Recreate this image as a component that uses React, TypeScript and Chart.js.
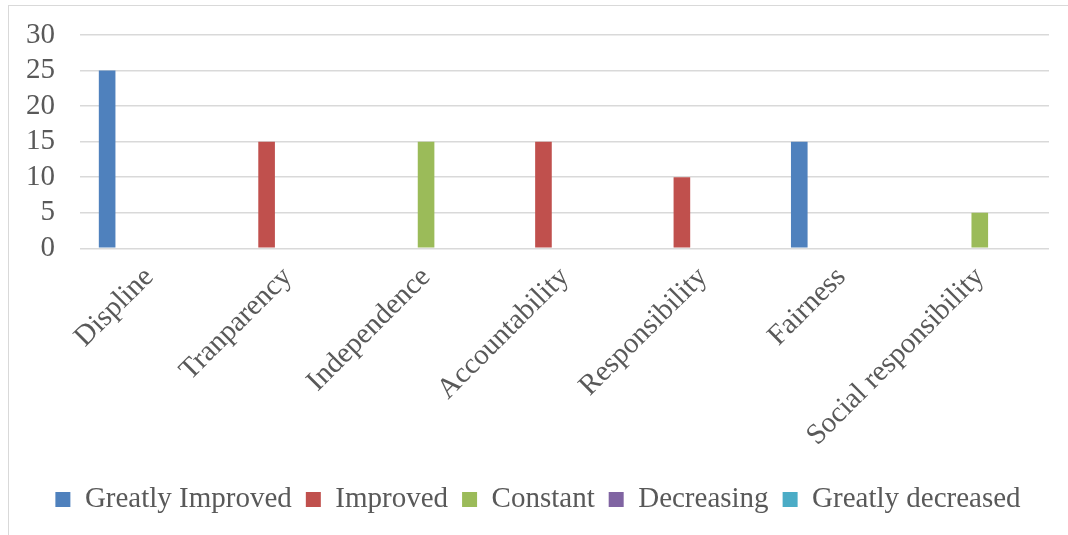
import React, { useEffect, useRef } from "react";
import { Chart, registerables } from "chart.js";

Chart.register(...registerables);

const categories = [
  "Displine",
  "Tranparency",
  "Independence",
  "Accountability",
  "Responsibility",
  "Fairness",
  "Social responsibility",
];
const seriesNames = [
  "Greatly Improved",
  "Improved",
  "Constant",
  "Decreasing",
  "Greatly decreased",
];
const greatlyImproved = [25, 0, 0, 0, 0, 15, 0];
const improved = [0, 15, 0, 15, 10, 0, 0];
const constant = [0, 0, 15, 0, 0, 0, 5];
const decreasing = [0, 0, 0, 0, 0, 0, 0];
const greatlyDecreased = [0, 0, 0, 0, 0, 0, 0];
const seriesColors = ["#4F81BD", "#C0504D", "#9BBB59", "#8064A2", "#4BACC6"];
const yTicks = [0, 5, 10, 15, 20, 25, 30];

export default function App() {
  const ref = useRef<HTMLCanvasElement | null>(null);
  useEffect(() => {
    if (!ref.current) return;
    const values = [greatlyImproved, improved, constant, decreasing, greatlyDecreased];
    const fontFamily = "'Liberation Serif', 'Times New Roman', serif";
    const chart = new Chart(ref.current, {
      type: "bar",
      data: {
        labels: categories,
        datasets: seriesNames.map((name, i) => ({
          label: name,
          data: values[i],
          backgroundColor: seriesColors[i],
          borderWidth: 0,
          categoryPercentage: 0.76,
          barPercentage: 0.79,
        })),
      },
      options: {
        animation: false,
        responsive: false,
        maintainAspectRatio: false,
        layout: { padding: { left: 27, right: 19, top: 35, bottom: 11 } },
        plugins: {
          tooltip: { enabled: false },
          legend: {
            position: "bottom",
            labels: {
              boxWidth: 15,
              boxHeight: 15,
              padding: 14,
              color: "#595959",
              font: { family: fontFamily, size: 29 },
            },
          },
        },
        scales: {
          x: {
            grid: { display: false },
            border: { display: false },
            afterFit: (axis: any) => {
              axis.paddingLeft = 0;
              axis.paddingRight = 0;
              axis.height = axis.height + 14;
            },
            ticks: {
              color: "#595959",
              font: { family: fontFamily, size: 29 },
              minRotation: 45,
              maxRotation: 45,
              padding: 4,
            },
          },
          y: {
            min: 0,
            max: 30,
            afterBuildTicks: (axis: any) => {
              axis.ticks = yTicks.map((v) => ({ value: v }));
            },
            afterFit: (axis: any) => {
              axis.width = 53;
              axis.paddingTop = 0;
              axis.paddingBottom = 0;
            },
            grid: { color: "#d9d9d9", lineWidth: 1.5, drawTicks: false },
            border: { display: false },
            ticks: {
              autoSkip: false,
              color: "#595959",
              font: { family: fontFamily, size: 29 },
              padding: 25,
            },
          },
        },
      },
    });
    return () => chart.destroy();
  }, []);
  return (
    <div style={{ position: "fixed", left: 0, top: 0, width: 1068, height: 535, background: "#fff" }}>
      <div
        style={{
          position: "absolute",
          left: 8,
          top: 5,
          width: 1080,
          height: 540,
          borderLeft: "1.5px solid #d9d9d9",
          borderTop: "1.5px solid #d9d9d9",
        }}
      />
      <canvas ref={ref} width={1068} height={535} style={{ position: "absolute", left: 0, top: 0 }} />
    </div>
  );
}
